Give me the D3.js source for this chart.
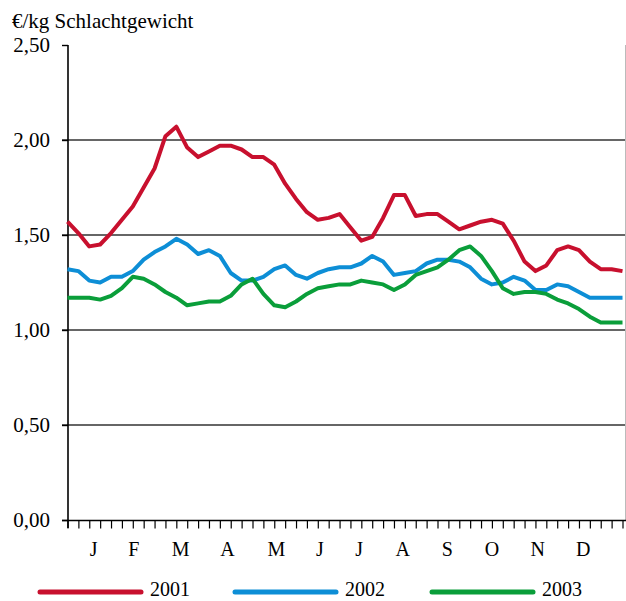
<!DOCTYPE html>
<html>
<head>
<meta charset="utf-8">
<script src="https://cdn.jsdelivr.net/npm/d3@7"></script>
<style>
  body { margin: 0; background: #fff; }
  svg text { font-family: "Liberation Serif", Tinos, "DejaVu Serif", serif; }
</style>
</head>
<body>
<svg id="chart" width="626" height="601"></svg>
<script>
// Preise je Woche, €/kg Schlachtgewicht
var weeks = d3.range(52);
var months = ["J", "F", "M", "A", "M", "J", "J", "A", "S", "O", "N", "D"];
var monthPos = [2.4, 6.1, 10.4, 14.7, 19.2, 23.2, 26.8, 30.8, 34.9, 39.0, 43.2, 47.4]; // Wochenposition der Monatsnamen
var yTicks = [0, 0.5, 1.0, 1.5, 2.0, 2.5];

var v2001 = [1.57, 1.51, 1.44, 1.45, 1.51, 1.58, 1.65, 1.75, 1.85, 2.02, 2.07, 1.96, 1.91,
             1.94, 1.97, 1.97, 1.95, 1.91, 1.91, 1.87, 1.77, 1.69, 1.62, 1.58, 1.59, 1.61,
             1.54, 1.47, 1.49, 1.59, 1.71, 1.71, 1.60, 1.61, 1.61, 1.57, 1.53, 1.55, 1.57,
             1.58, 1.56, 1.47, 1.36, 1.31, 1.34, 1.42, 1.44, 1.42, 1.36, 1.32, 1.32, 1.31];
var v2002 = [1.32, 1.31, 1.26, 1.25, 1.28, 1.28, 1.31, 1.37, 1.41, 1.44, 1.48, 1.45, 1.40,
             1.42, 1.39, 1.30, 1.26, 1.26, 1.28, 1.32, 1.34, 1.29, 1.27, 1.30, 1.32, 1.33,
             1.33, 1.35, 1.39, 1.36, 1.29, 1.30, 1.31, 1.35, 1.37, 1.37, 1.36, 1.33, 1.27,
             1.24, 1.25, 1.28, 1.26, 1.21, 1.21, 1.24, 1.23, 1.20, 1.17, 1.17, 1.17, 1.17];
var v2003 = [1.17, 1.17, 1.17, 1.16, 1.18, 1.22, 1.28, 1.27, 1.24, 1.20, 1.17, 1.13, 1.14,
             1.15, 1.15, 1.18, 1.24, 1.27, 1.19, 1.13, 1.12, 1.15, 1.19, 1.22, 1.23, 1.24,
             1.24, 1.26, 1.25, 1.24, 1.21, 1.24, 1.29, 1.31, 1.33, 1.37, 1.42, 1.44, 1.39,
             1.31, 1.22, 1.19, 1.20, 1.20, 1.19, 1.16, 1.14, 1.11, 1.07, 1.04, 1.04, 1.04];

var series = [
  { name: "2001", values: v2001, color: "#c8102e" },
  { name: "2002", values: v2002, color: "#0d8ed6" },
  { name: "2003", values: v2003, color: "#0a9e3a" }
];

var serif = "'Liberation Serif', Tinos, 'DejaVu Serif', serif";
var svg = d3.select("#chart");

var x = d3.scaleLinear().domain([0, 51]).range([67.5, 622.5]);
var y = d3.scaleLinear().domain([0, 2.5]).range([520, 45]);

//Achsentitel
svg.append("text")
  .attr("x", 12)
  .attr("y", 28)
  .style("font-family", serif)
  .style("font-size", "21px")
  .text("€/kg Schlachtgewicht");

//Gitterlinien
svg.append("g")
  .selectAll("line")
  .data([0.5, 1.0, 1.5, 2.0])
  .enter()
  .append("line")
  .attr("x1", 62)
  .attr("x2", 626)
  .attr("y1", function (d) { return y(d); })
  .attr("y2", function (d) { return y(d); })
  .style("stroke", "#333")
  .style("stroke-width", 1.4);

// rechter Rand
svg.append("line")
  .attr("x1", 625.5).attr("x2", 625.5)
  .attr("y1", 45).attr("y2", 520)
  .style("stroke", "#bbb")
  .style("stroke-width", 1);

//Y-Achse
var yAxis = svg.append("g")
  .attr("transform", "translate(68,0)")
  .call(d3.axisLeft(y)
    .tickValues(yTicks)
    .tickSize(6)
    .tickFormat(function (d) { return d3.format(".2f")(d).replace(".", ","); }));
yAxis.attr("font-family", null);
yAxis.select(".domain").remove();
yAxis.selectAll(".tick line").style("stroke", "#000").style("stroke-width", 1.4);
yAxis.selectAll(".tick text")
  .attr("x", -18)
  .style("font-family", serif)
  .style("font-size", "21px")
  .style("fill", "#000");

svg.append("line")
  .attr("x1", 68).attr("x2", 68)
  .attr("y1", 45).attr("y2", 528)
  .style("stroke", "#000")
  .style("stroke-width", 1.6);

//X-Achse mit Wochenstrichen
var xAxis = svg.append("g")
  .attr("transform", "translate(0,520.5)")
  .call(d3.axisBottom(x)
    .tickValues(weeks)
    .tickSize(8)
    .tickFormat(""));
xAxis.select(".domain").remove();
xAxis.selectAll(".tick line").style("stroke", "#000").style("stroke-width", 1.2);

svg.append("line")
  .attr("x1", 62).attr("x2", 626)
  .attr("y1", 520.5).attr("y2", 520.5)
  .style("stroke", "#000")
  .style("stroke-width", 1.6);

// Monatsnamen
svg.append("g")
  .selectAll("text")
  .data(months)
  .enter()
  .append("text")
  .attr("x", function (d, i) { return x(monthPos[i]); })
  .attr("y", 556)
  .attr("text-anchor", "middle")
  .style("font-family", serif)
  .style("font-size", "20px")
  .text(function (d) { return d; });

//Linien
var line = d3.line()
  .x(function (d, i) { return x(weeks[i]); })
  .y(function (d) { return y(d); });

svg.append("g")
  .selectAll("path")
  .data(series)
  .enter()
  .append("path")
  .attr("d", function (s) { return line(s.values); })
  .style("fill", "none")
  .style("stroke", function (s) { return s.color; })
  .style("stroke-width", 4)
  .style("stroke-linejoin", "round");

//Legende
var legendX = [40, 235, 432];
var legend = svg.append("g")
  .selectAll("g")
  .data(series)
  .enter()
  .append("g")
  .attr("transform", function (d, i) { return "translate(" + legendX[i] + ",592)"; });

legend.append("line")
  .attr("x1", 0)
  .attr("x2", 101)
  .style("stroke", function (d) { return d.color; })
  .style("stroke-width", 5)
  .style("stroke-linecap", "round");

legend.append("text")
  .attr("x", 110)
  .attr("y", 4)
  .style("font-family", serif)
  .style("font-size", "20px")
  .text(function (d) { return d.name; });
</script>
</body>
</html>
